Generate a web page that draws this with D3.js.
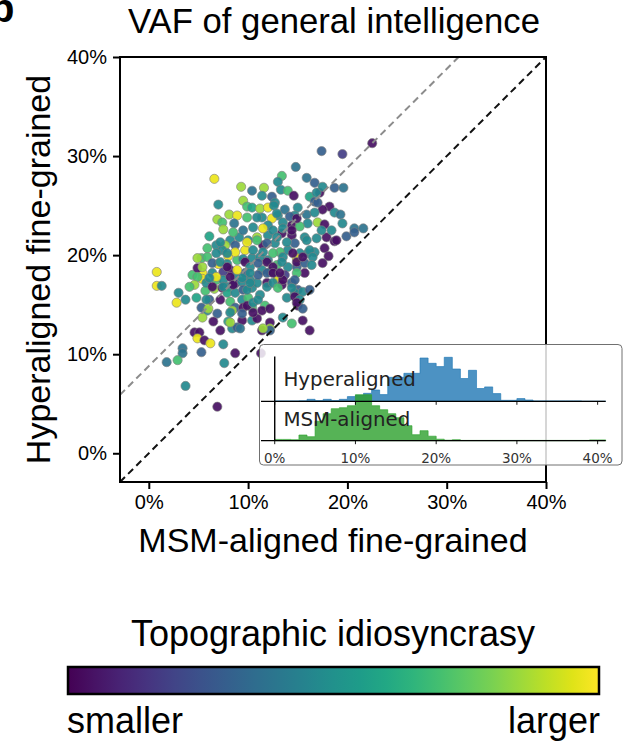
<!DOCTYPE html>
<html>
<head>
<meta charset="utf-8">
<script src="https://cdn.jsdelivr.net/npm/d3@7"></script>
<style>
  body { margin: 0; background: #fff; }
  svg { display: block; }
</style>
</head>
<body>
<svg id="chart" width="625" height="742"></svg>
<script>
// Variance accounted for (%) per subject, with the subject's topographic idiosyncrasy (0..1)
const msmVaf = [
  6.6, 9.3, 10.4, 7.0, 9.5, 9.9, 10.4, 8.1, 8.9, 6.9,
  7.4, 8.6, 7.5, 22.5, 17.4, 19.5, 14.8, 13.4, 15.9, 13.0,
  16.7, 18.7, 19.6, 11.6, 13.3, 14.0, 14.6, 17.2, 16.2, 11.4,
  12.4, 16.7, 18.2, 18.7, 19.3, 17.5, 11.2, 12.0, 12.7, 13.7,
  15.0, 15.9, 16.7, 14.7, 13.0, 11.4, 12.4, 17.0, 16.0, 20.7,
  14.4, 15.2, 13.5, 12.0, 17.7, 0.8, 0.8, 1.3, 3.0, 3.7,
  2.8, 4.8, 5.7, 6.6, 4.4, 5.3, 5.9, 6.1, 6.8, 8.2,
  9.1, 10.0, 7.7, 8.7, 9.7, 7.4, 8.0, 8.9, 9.5, 10.4,
  7.0, 7.9, 8.2, 5.4, 4.9, 6.4, 7.5, 5.4, 5.8, 6.8,
  7.5, 8.7, 9.7, 10.2, 7.4, 8.0, 8.7, 9.4, 7.9, 8.7,
  9.5, 10.4, 6.1, 7.2, 8.2, 9.4, 10.0, 8.7, 9.5, 10.4,
  5.3, 5.9, 8.4, 6.9, 5.4, 6.5, 8.0, 9.4, 10.4, 10.9,
  12.0, 13.4, 14.4, 15.7, 14.7, 12.7, 11.5, 17.9, 18.7, 19.9,
  20.7, 17.7, 18.1, 16.7, 16.0, 15.2, 14.0, 13.2, 14.9, 12.0,
  11.2, 12.9, 14.0, 14.9, 14.9, 15.7, 15.7, 14.9, 13.7, 13.0,
  12.2, 11.4, 13.0, 13.4, 14.4, 11.9, 10.9, 11.2, 15.0, 14.7,
  15.5, 13.9, 15.0, 11.7, 11.4, 12.2, 10.9, 12.2, 4.6, 5.1,
  4.9, 5.6, 6.2, 7.2, 7.5, 8.4, 8.9, 3.4, 3.4, 2.9,
  1.8, 5.3, 8.7, 7.6, 3.7, 6.9, 11.4, 12.2, 11.3, 12.6,
  9.9, 10.9, 12.9, 14.2, 14.9, 14.4, 13.5, 12.5, 11.5, 10.5,
  9.5, 8.5, 7.2, 9.9, 10.9, 11.9, 12.9, 13.9, 15.9, 16.9,
  17.4, 18.4, 16.2, 16.5, 15.5, 14.5, 13.5, 12.5, 11.5, 10.5,
  8.7, 7.9, 6.8, 5.9, 4.9, 5.4, 6.4, 7.2, 7.9, 9.7,
  10.2, 11.0, 11.9, 12.5, 13.4, 16.4, 17.5, 18.9, 19.5, 17.0,
  16.9, 17.5, 4.9, 4.6, 4.1, 5.8, 6.0, 8.2, 8.2, 9.2,
  9.4, 9.9, 10.5, 11.0, 10.5, 9.9, 10.2, 11.9, 12.5, 13.0,
  13.5, 14.7, 14.4, 14.7, 16.2, 11.9, 12.5, 13.2, 11.0, 10.2,
  9.4, 8.9, 8.2, 6.8, 6.1, 6.4, 7.5, 8.5, 21.6, 15.2,
  15.5, 13.5, 14.9, 15.5, 14.4, 16.2, 12.2, 11.5
];
const hyperVaf = [
  27.7, 26.9, 26.5, 25.1, 25.5, 24.9, 24.8, 24.1, 24.0, 23.6,
  23.3, 23.2, 22.6, 31.3, 30.5, 30.2, 28.9, 28.0, 27.8, 27.4,
  27.3, 26.8, 26.8, 26.8, 26.6, 26.5, 26.0, 26.3, 25.9, 26.0,
  25.9, 25.4, 24.9, 24.3, 24.1, 24.6, 24.7, 24.8, 25.3, 24.6,
  24.8, 24.1, 24.3, 24.0, 24.0, 23.8, 23.7, 23.3, 23.2, 22.7,
  23.0, 22.9, 23.3, 23.0, 23.1, 18.3, 16.9, 16.9, 16.2, 15.5,
  15.2, 15.7, 16.4, 16.6, 18.0, 19.7, 20.7, 21.9, 21.0, 21.5,
  21.8, 21.5, 21.0, 21.0, 20.5, 20.5, 19.9, 19.5, 19.6, 19.7,
  19.1, 19.1, 18.5, 18.2, 18.7, 18.2, 18.3, 17.6, 17.2, 17.5,
  17.5, 17.8, 18.2, 17.5, 16.7, 16.8, 17.1, 17.3, 16.2, 16.2,
  16.5, 16.7, 15.5, 15.5, 15.3, 15.5, 15.7, 14.7, 14.7, 14.7,
  14.7, 14.4, 14.4, 14.1, 13.7, 13.3, 13.3, 13.4, 13.4, 21.8,
  22.0, 22.2, 22.0, 21.8, 21.2, 21.2, 21.0, 21.8, 21.4, 21.9,
  22.3, 20.7, 19.9, 20.3, 20.2, 20.2, 20.5, 20.3, 19.7, 19.5,
  19.8, 19.0, 18.8, 18.8, 19.3, 19.2, 18.2, 18.2, 18.0, 17.8,
  18.3, 18.5, 17.5, 17.0, 17.2, 17.2, 17.2, 16.0, 16.5, 16.2,
  16.3, 15.7, 14.9, 14.9, 14.4, 14.6, 13.6, 13.2, 12.2, 12.2,
  11.6, 11.4, 11.1, 12.4, 11.0, 12.6, 12.7, 10.6, 10.1, 9.4,
  9.2, 10.2, 10.1, 9.1, 6.8, 4.7, 12.4, 12.6, 10.1, 25.0,
  23.8, 23.8, 24.2, 23.9, 23.7, 22.5, 22.7, 22.5, 22.7, 22.8,
  22.5, 22.3, 21.3, 21.3, 21.5, 21.2, 21.8, 21.3, 21.5, 21.7,
  22.5, 22.5, 20.5, 19.8, 19.8, 20.2, 19.8, 20.2, 20.3, 20.5,
  20.3, 20.2, 20.2, 19.8, 19.7, 18.8, 19.2, 19.3, 18.8, 19.3,
  18.8, 19.2, 19.3, 18.8, 19.3, 19.0, 19.2, 21.5, 23.2, 25.3,
  26.3, 26.9, 17.8, 17.0, 16.8, 15.5, 14.6, 14.2, 13.2, 12.6,
  14.1, 14.9, 15.2, 15.5, 14.2, 16.5, 17.2, 16.8, 17.2, 16.7,
  17.5, 17.5, 16.7, 15.8, 16.5, 18.2, 18.2, 18.2, 18.0, 18.2,
  17.7, 18.5, 17.8, 17.8, 17.7, 16.8, 16.8, 17.0, 22.7, 15.5,
  14.6, 13.7, 15.2, 13.4, 13.1, 12.4, 12.4, 12.6
];
const idiosyncrasy = [
  .97, .85, .38, .47, .85, .70, .58, .85, .97, .85,
  .70, .38, .85, .04, .30, .18, .38, .70, .38, .47,
  .30, .30, .38, .85, .47, .70, .04, .04, .58, .47,
  .30, .30, .04, .47, .38, .04, .85, .97, .47, .38,
  .47, .38, .47, .47, .47, .47, .97, .85, .47, .38,
  .04, .70, .47, .47, .04, .97, .97, .47, .47, .47,
  .97, .58, .70, .85, .70, .70, .70, .58, .47, .47,
  .47, .47, .85, .30, .97, .47, .97, .70, .47, .47,
  .97, .47, .04, .97, .04, .47, .18, .97, .47, .70,
  .47, .47, .30, .47, .04, .47, .18, .47, .58, .47,
  .30, .47, .30, .04, .70, .47, .70, .30, .04, .70,
  .30, .47, .85, .30, .85, .04, .58, .04, .47, .85,
  .47, .04, .04, .47, .30, .47, .04, .04, .04, .30,
  .30, .04, .04, .47, .47, .47, .47, .70, .97, .47,
  .47, .70, .47, .30, .04, .30, .04, .70, .18, .47,
  .30, .47, .97, .04, .30, .04, .47, .47, .30, .47,
  .47, .47, .04, .70, .04, .04, .04, .04, .04, .04,
  .97, .04, .97, .04, .47, .47, .30, .38, .38, .70,
  .38, .30, .04, .47, .47, .04, .04, .85, .04, .47,
  .70, .47, .47, .30, .04, .04, .47, .47, .97, .47,
  .38, .70, .47, .97, .70, .30, .47, .47, .47, .47,
  .47, .47, .47, .47, .04, .04, .47, .70, .47, .47,
  .97, .47, .47, .70, .85, .85, .30, .47, .04, .04,
  .47, .30, .04, .04, .47, .47, .04, .04, .47, .30,
  .47, .47, .70, .85, .70, .47, .85, .47, .85, .38,
  .30, .04, .47, .47, .04, .47, .47, .47, .47, .70,
  .04, .30, .47, .04, .30, .30, .04, .04, .30, .47,
  .47, .97, .04, .97, .47, .04, .47, .04, .38, .47,
  .30, .47, .04, .04, .70, .04, .30, .85
];

// Mean gain of hyperalignment over MSM alignment (grey reference line y = x + offset)
const meanGain = 8.8;

const axisTicks = [0, 10, 20, 30, 40];

// Inset histograms: 1%-wide bins starting at 0%, 1%, ..., 40%
const binStarts = d3.range(0, 41);
const hyperCounts = [
  0.4, 0.4, 0.4, 0.5, 2.0, 0.7, 2.0, 0.7, 2.0, 4.7,
  6.0, 8.0, 11.3, 6.7, 24.0, 24.0, 28.0, 28.0, 43.3, 38.0,
  34.7, 44.0, 32.3, 22.8, 31.0, 12.8, 14.4, 7.7, 1.0, 1.0,
  2.7, 1.3, 0.4, 0.4, 0.4, 0.4, 0.4, 0.4, 0, 0, 0
];
const msmCounts = [
  1.3, 1.3, 1.0, 5.7, 4.0, 19.5, 27.0, 32.0, 33.0, 35.0,
  46.0, 46.0, 35.0, 31.0, 27.0, 23.0, 15.0, 6.0, 10.0, 4.5,
  1.5, 0.5, 1.0, 0.3, 0.3, 0.3, 0.3, 0.3, 0.3, 0.3,
  0.3, 0.3, 0.3, 0.3, 0.3, 0.3, 0.3, 0.3, 0.3, 0.8, 0.8
];
const histLabels = ["Hyperaligned", "MSM-aligned"];
const colorbarEnds = ["smaller", "larger"];

const sans = "'Liberation Sans', Arial, Helvetica, sans-serif";
const dejavu = "'DejaVu Sans', sans-serif";

const svg = d3.select("#chart");

// panel letter, mostly outside the canvas
svg.append("text").attr("x", -10).attr("y", 22)
  .attr("font-family", sans).attr("font-weight", "bold").attr("font-size", 40)
  .text("b");

// ---------- main scatter ----------
const x = d3.scaleLinear().domain([-2.9, 40]).range([120, 546]);
const y = d3.scaleLinear().domain([-2.9, 40]).range([482, 57]);
const color = d3.scaleSequential(d3.interpolateViridis).domain([0, 1]);

svg.append("text")
  .attr("x", 334).attr("y", 33).attr("text-anchor", "middle")
  .attr("font-family", sans).attr("font-size", 34.7)
  .text("VAF of general intelligence");

svg.append("defs").append("clipPath").attr("id", "plotClip")
  .append("rect")
  .attr("x", x(-2.9)).attr("y", y(40))
  .attr("width", x(40) - x(-2.9)).attr("height", y(-2.9) - y(40));

const points = d3.range(msmVaf.length).map(i => ({
  mx: msmVaf[i], hy: hyperVaf[i], c: idiosyncrasy[i]
}));

svg.append("g").selectAll("circle").data(points).join("circle")
  .attr("cx", d => x(d.mx)).attr("cy", d => y(d.hy)).attr("r", 4.6)
  .attr("fill", d => color(d.c)).attr("fill-opacity", 0.92)
  .attr("stroke", "#808080").attr("stroke-opacity", 0.7).attr("stroke-width", 0.9);

const lines = svg.append("g").attr("clip-path", "url(#plotClip)");
lines.append("line")
  .attr("x1", x(-2.9)).attr("y1", y(-2.9)).attr("x2", x(40)).attr("y2", y(40))
  .attr("stroke", "#111").attr("stroke-width", 2).attr("stroke-dasharray", "7,4.5");
lines.append("line")
  .attr("x1", x(-2.9)).attr("y1", y(-2.9 + meanGain))
  .attr("x2", x(40 - meanGain)).attr("y2", y(40))
  .attr("stroke", "#8c8c8c").attr("stroke-width", 2).attr("stroke-dasharray", "7,4.5");

// frame
svg.append("rect")
  .attr("x", x(-2.9)).attr("y", y(40))
  .attr("width", x(40) - x(-2.9)).attr("height", y(-2.9) - y(40))
  .attr("fill", "none").attr("stroke", "#000").attr("stroke-width", 2);

const fmt = d => d + "%";
const xAxis = svg.append("g").attr("transform", `translate(0,${y(-2.9)})`)
  .call(d3.axisBottom(x).tickValues(axisTicks).tickFormat(fmt).tickSize(7).tickPadding(6));
const yAxis = svg.append("g").attr("transform", `translate(${x(-2.9)},0)`)
  .call(d3.axisLeft(y).tickValues(axisTicks).tickFormat(fmt).tickSize(7).tickPadding(6));
[xAxis, yAxis].forEach(g => {
  g.select(".domain").remove();
  g.selectAll(".tick line").attr("stroke", "#000").attr("stroke-width", 2);
  g.selectAll(".tick text").attr("font-family", sans).attr("font-size", 20).attr("fill", "#000");
});

svg.append("text")
  .attr("x", 333).attr("y", 552).attr("text-anchor", "middle")
  .attr("font-family", sans).attr("font-size", 34)
  .text("MSM-aligned fine-grained");
svg.append("text")
  .attr("transform", `translate(50,${(y(40) + y(-2.9)) / 2}) rotate(-90)`)
  .attr("text-anchor", "middle")
  .attr("font-family", sans).attr("font-size", 34)
  .text("Hyperaligned fine-grained");

// ---------- inset histograms ----------
const inset = svg.append("g");
inset.append("rect")
  .attr("x", 259.5).attr("y", 344.5).attr("width", 362.5).attr("height", 120.5).attr("rx", 4)
  .attr("fill", "#fff").attr("fill-opacity", 0.84)
  .attr("stroke", "#707070").attr("stroke-width", 1);

const xi = d3.scaleLinear().domain([-1.7, 41]).range([261, 605.7]);
const yi = d3.scaleLinear().domain([0, 84.3]).range([440.7, 356.4]);
const hyperBase = 39.4;

function stepArea(counts, base) {
  const pts = binStarts.map((b, i) => ({ x: b, v: counts[i] }));
  pts.push({ x: binStarts[binStarts.length - 1] + 1, v: 0 });
  return d3.area().curve(d3.curveStepAfter)
    .x(d => xi(d.x)).y0(yi(base)).y1(d => yi(base + d.v))(pts);
}

inset.append("path").attr("d", stepArea(hyperCounts, hyperBase))
  .attr("fill", "#1f77b4").attr("fill-opacity", 0.8)
  .attr("stroke", "#1f77b4").attr("stroke-opacity", 0.8).attr("stroke-width", 0.8);
inset.append("path").attr("d", stepArea(msmCounts, 0))
  .attr("fill", "#2ca02c").attr("fill-opacity", 0.8)
  .attr("stroke", "#2ca02c").attr("stroke-opacity", 0.8).attr("stroke-width", 0.8);

// baselines, zero line and ticks
[0, hyperBase].forEach(b => {
  inset.append("line")
    .attr("x1", xi(-1.7)).attr("x2", xi(41)).attr("y1", yi(b)).attr("y2", yi(b))
    .attr("stroke", "#000").attr("stroke-width", 1.2);
  inset.selectAll(null).data(axisTicks).join("line")
    .attr("x1", d => xi(d)).attr("x2", d => xi(d))
    .attr("y1", yi(b)).attr("y2", yi(b) + 3.5)
    .attr("stroke", "#000").attr("stroke-width", 0.9);
});
inset.append("line")
  .attr("x1", xi(0)).attr("x2", xi(0)).attr("y1", yi(84.3)).attr("y2", yi(0))
  .attr("stroke", "#000").attr("stroke-width", 1.4);

inset.selectAll("text.tl").data(axisTicks).join("text")
  .attr("class", "tl")
  .attr("x", d => xi(d)).attr("y", 463).attr("text-anchor", "middle")
  .attr("font-family", dejavu).attr("font-size", 13.5).attr("fill", "#333")
  .text(fmt);

inset.selectAll("text.hl").data(histLabels).join("text")
  .attr("class", "hl")
  .attr("x", 283.5).attr("y", (d, i) => i === 0 ? 385.5 : 425.5)
  .attr("font-family", dejavu).attr("font-size", 19.8).attr("fill", "#222")
  .text(d => d);

// ---------- colour bar ----------
const grad = svg.select("defs").append("linearGradient").attr("id", "viridisBar");
d3.range(0, 1.0001, 0.05).forEach(t => {
  grad.append("stop").attr("offset", t).attr("stop-color", d3.interpolateViridis(t));
});

svg.append("text")
  .attr("x", 333).attr("y", 646).attr("text-anchor", "middle")
  .attr("font-family", sans).attr("font-size", 36)
  .text("Topographic idiosyncrasy");
svg.append("rect")
  .attr("x", 68).attr("y", 667).attr("width", 531).attr("height", 27)
  .attr("fill", "url(#viridisBar)").attr("stroke", "#000").attr("stroke-width", 2.5);
svg.selectAll("text.cb").data(colorbarEnds).join("text")
  .attr("class", "cb")
  .attr("x", (d, i) => i === 0 ? 67 : 600).attr("y", 733)
  .attr("text-anchor", (d, i) => i === 0 ? "start" : "end")
  .attr("font-family", sans).attr("font-size", 36)
  .text(d => d);
</script>
</body>
</html>
